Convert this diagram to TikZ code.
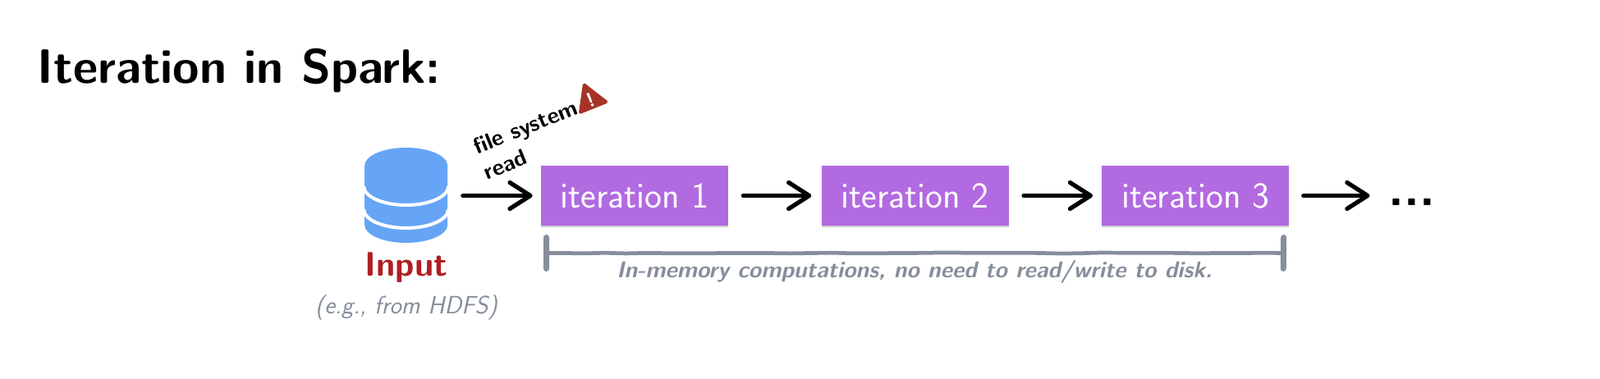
\documentclass[tikz,border=0pt]{standalone}
\usepackage{fontspec}
\usepackage{xcolor}
\usetikzlibrary{shapes.geometric, arrows.meta, positioning, shadows, decorations.pathmorphing}
\definecolor{iterpurple}{HTML}{B26AE0}
\definecolor{dbblue}{HTML}{66A5F5}
\definecolor{inputred}{HTML}{B01E23}
\definecolor{warnred}{HTML}{A63228}
\definecolor{notegray}{HTML}{868E9C}
\tikzstyle{iter} = [rectangle, minimum width=4.56cm, minimum height=1.46cm, inner sep=0pt, text=white, fill=iterpurple, font=\fontsize{25.3}{30}\selectfont\sffamily, drop shadow={shadow xshift=0pt, shadow yshift=-1pt, opacity=0.4}]
\tikzstyle{arrow} = [line width=3pt, line cap=round, -{Straight Barb[length=0.5cm, width=0.64cm, round]}, draw=black]
\tikzstyle{span} = [line width=2.7pt, draw=notegray, decorate, decoration={random steps, segment length=0.5cm, amplitude=0.25pt}, {Bar[width=0.76cm, line width=4pt, round]}-{Bar[width=0.76cm, line width=4pt, round]}]
\tikzstyle{note} = [text=notegray, font=\fontsize{16}{19}\selectfont\sffamily\itshape]

\begin{document}
\begin{tikzpicture}[node distance=2.26cm, auto]
    \useasboundingbox (0,0) rectangle (38.98,9.24);

    \node (title) [anchor=base west, inner sep=0pt, font=\fontsize{33.5}{40}\selectfont\sffamily\bfseries] at (0.91,7.21) {Iteration in Spark:};

    \node (it1) [iter] at (15.46,4.47) {iteration 1};
    \node (it2) [iter, right=of it1] {iteration 2};
    \node (it3) [iter, right=of it2] {iteration 3};
    \node (dots) [inner sep=0pt, font=\fontsize{35}{42}\selectfont\sffamily\bfseries, anchor=base west] at (33.82,4.23) {...};

    % database icon
    \node (db) [minimum width=2.02cm, minimum height=2.32cm, inner sep=0pt] at (9.9,4.48) {};
    \fill [dbblue] (db.west) ++(0,0.72) arc[start angle=180, end angle=0, x radius=1.01cm, y radius=0.44cm]
        -- ++(0,-1.44) arc[start angle=0, end angle=-180, x radius=1.01cm, y radius=0.44cm] -- cycle;
    \draw [white, line width=2.3pt] (db.west) ++(-0.02,0.22) arc[start angle=180, end angle=360, x radius=1.03cm, y radius=0.46cm];
    \draw [white, line width=2.3pt] (db.west) ++(-0.02,-0.34) arc[start angle=180, end angle=360, x radius=1.03cm, y radius=0.46cm];

    \node (input) [text=inputred, font=\fontsize{23.6}{28}\selectfont\sffamily\bfseries] at (9.9,2.72) {Input};
    \node (hdfs) [note, below=0.06cm of input, font=\fontsize{17.4}{20}\selectfont\sffamily\itshape] {(e.g., from HDFS)};

    \node (read) [rotate=22, align=left, inner sep=0pt, font=\fontsize{15.7}{19}\selectfont\sffamily\bfseries] at (12.92,5.84) {file system\\read};
    \node (warn) [regular polygon, regular polygon sides=3, rotate=22, fill=warnred, draw=warnred, line width=1pt, rounded corners=1pt, inner sep=0pt, minimum size=0.86cm] at (14.38,6.81) {};
    \node (warnmark) [rotate=22, text=white, inner sep=0pt, font=\fontsize{14}{16}\selectfont\sffamily\bfseries] at (warn.center) {!};

    \draw [arrow, shorten <=0.36cm, shorten >=0.2cm] (db.east |- it1.west) -- (it1.west);
    \draw [arrow, shorten <=0.36cm, shorten >=0.24cm] (it1) -- (it2);
    \draw [arrow, shorten <=0.36cm, shorten >=0.22cm] (it2) -- (it3);
    \draw [arrow, shorten <=0.34cm, shorten >=0.45cm] (it3) -- (it3 -| dots.west);

    \coordinate (spanl) at (13.24,3.07);
    \coordinate (spanr) at (31.34,3.07);
    \draw [span] (spanl) -- (spanr);
    \node (spantext) [note, font=\fontsize{15.9}{19}\selectfont\sffamily\bfseries\itshape] at (22.28,2.61) {In-memory computations, no need to read/write to disk.};
\end{tikzpicture}
\end{document}
